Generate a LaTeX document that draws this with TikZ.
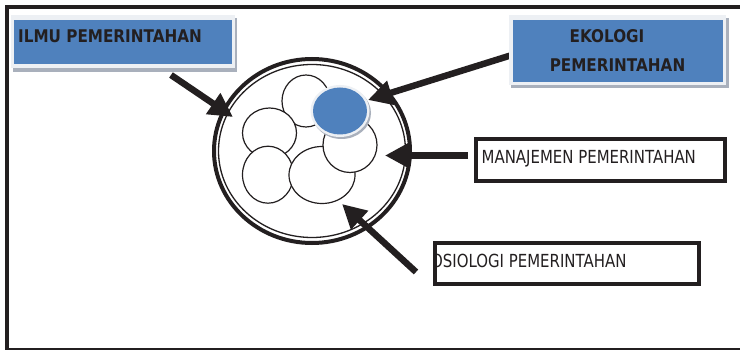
\documentclass[tikz,border=0pt]{standalone}
\usepackage{fontspec}
\usetikzlibrary{shapes.geometric,arrows.meta}
\newfontfamily\plainlabel{DejaVu Sans}[FakeStretch=0.83]
\newfontfamily\boldlabel{DejaVu Sans}[FakeStretch=0.87]
\definecolor{ink}{HTML}{231F20}
\definecolor{officeblue}{HTML}{4F81BD}
\definecolor{glow}{HTML}{EDF0F4}
\definecolor{dropshade}{HTML}{A9B0BC}
\begin{document}
\begin{tikzpicture}[x=1pt,y=-1pt,
  bubble/.style={ellipse,draw=ink,line width=1.2pt,fill=white,inner sep=0pt},
  blob/.style={ellipse,inner sep=0pt,draw=none},
  slab/.style={rectangle,inner sep=0pt,draw=none},
  framebox/.style={rectangle,inner sep=0pt,draw=ink,line width=4pt},
  pointer/.style={draw=ink,line width=6.5pt,-{Triangle[length=24pt,width=24pt]}},
  plaintext/.style={inner sep=0pt,text=ink,font=\plainlabel\fontsize{18}{20}\selectfont},
  boldtext/.style={inner sep=0pt,text=ink,font=\boldlabel\bfseries\fontsize{17.5}{20}\selectfont},
]
\useasboundingbox (0,0) rectangle (740,350);
\clip (0,0) rectangle (740,350);
\fill[white] (0,0) rectangle (740,350);

% open frame: top, left and bottom sides
\draw[ink,line width=4pt] (745,7) -- (7,7) -- (7,349.5) -- (745,349.5);

% double ring
\node[blob,draw=ink,line width=4pt,minimum width=196,minimum height=184] (ringout) at (312,151) {};
\node[blob,draw=ink,line width=1.3pt,minimum width=187,minimum height=173] (ringin) at (312,151) {};

% overlapping bubbles
\node[bubble,minimum width=48,minimum height=52] (b1) at (306,101) {};
\node[bubble,minimum width=54,minimum height=50] (b2) at (269.5,133) {};
\node[bubble,minimum width=51,minimum height=57] (b3) at (268,174.7) {};
\node[bubble,minimum width=66,minimum height=57] (b4) at (322,175) {};
\node[bubble,minimum width=54,minimum height=55] (b5) at (350,145) {};

% highlighted blue bubble with glow and shadow
\node[blob,fill=dropshade,minimum width=59,minimum height=52] (bshade) at (341.5,113) {};
\node[blob,fill=glow,minimum width=59,minimum height=52] (bglow) at (340,111) {};
\node[blob,fill=officeblue,minimum width=54,minimum height=47] (bblue) at (340,111) {};

% arrow end points
\coordinate (s1) at (171,75);   \coordinate (t1) at (233,117);
\coordinate (s2) at (512,55);   \coordinate (t2) at (368,100);
\coordinate (s3) at (468,155.5); \coordinate (t3) at (385,155.5);
\coordinate (s4) at (416,272);  \coordinate (t4) at (342,204);

\draw[pointer] (s1) -- (t1);
\draw[pointer] (s2) -- (t2);
\draw[pointer] (s3) -- (t3);
\draw[pointer] (s4) -- (t4);

% ILMU PEMERINTAHAN panel
\node[slab,fill=dropshade,minimum width=224,minimum height=54] (ilmushade) at (125,45) {};
\node[slab,fill=glow,minimum width=224,minimum height=53] (ilmuglow) at (123,41.5) {};
\node[slab,fill=officeblue,minimum width=218,minimum height=44] (ilmu) at (123,42) {};
\node[boldtext,anchor=base west] (ilmutext) at (18,43) {ILMU PEMERINTAHAN};

% EKOLOGI PEMERINTAHAN panel
\node[slab,fill=dropshade,minimum width=218,minimum height=70] (ekoshade) at (620,53) {};
\node[slab,fill=glow,minimum width=217,minimum height=70] (ekoglow) at (617.5,50) {};
\node[slab,fill=officeblue,minimum width=210,minimum height=62] (eko) at (618,51) {};
\node[boldtext,anchor=base] (ekotext1) at (607,43) {EKOLOGI};
\node[boldtext,anchor=base] (ekotext2) at (617.5,72) {PEMERINTAHAN};

% MANAJEMEN PEMERINTAHAN box
\node[framebox,minimum width=249,minimum height=42] (mgmt) at (600.5,160) {};
\node[plaintext,anchor=base west] (mgmttext) at (481.5,163.5) {MANAJEMEN PEMERINTAHAN};

% SOSIOLOGI PEMERINTAHAN box, label cut at the left border
\begin{scope}
  \clip (437,245) rectangle (697,282);
  \node[plaintext,anchor=base west] (sosiotext) at (431,267.5) {OSIOLOGI PEMERINTAHAN};
\end{scope}
\node[framebox,minimum width=264,minimum height=41] (sosio) at (567,263.5) {};
\end{tikzpicture}
\end{document}
